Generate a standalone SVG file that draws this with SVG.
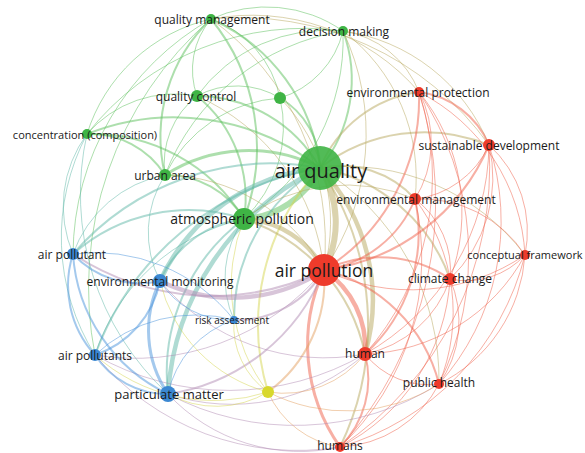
<svg xmlns="http://www.w3.org/2000/svg" width="585" height="453" viewBox="0 0 585 453">
<style>
.e{fill:none;stroke-opacity:0.5;stroke-width:1;stroke-linecap:round}
.g{stroke:#5cbf5c}.r{stroke:#f0604a}.b{stroke:#4a94dc}.y{stroke:#d6d650}
.gr{stroke:#b8a75e}.bg{stroke:#5fb8a8}.br{stroke:#b28cb4}.yr{stroke:#e4a060}
.w2{stroke-width:2}.w3{stroke-width:3}.w4{stroke-width:4.5}.w6{stroke-width:6}
.l{font-family:"Open Sans","Noto Sans","DejaVu Sans",sans-serif;fill:#1a1a1a;text-anchor:middle;dominant-baseline:central}
.ng{fill:#3fb445}.nr{fill:#ee3b2b}.nb{fill:#3b88d2}.ny{fill:#d8d82c}
</style>
<rect width="585" height="453" fill="#fff"/>
<g id="connectors">
<path class="e g" d="M211 19 A133 133 0 0 1 343 31"/>
<path class="e g w2" d="M211 19 A185 185 0 0 1 320 168"/>
<path class="e g w2" d="M211 19 A203 203 0 0 1 244 219"/>
<path class="e g" d="M197 96 A78 78 0 0 1 211 19"/>
<path class="e g" d="M87 134 A169 169 0 0 1 211 19"/>
<path class="e g w2" d="M165 175 A163 163 0 0 1 211 19"/>
<path class="e g" d="M211 19 A105 105 0 0 1 280 98"/>
<path class="e gr" d="M211 19 A275 275 0 0 1 324 270"/>
<path class="e gr" d="M211 19 A220 220 0 0 1 419 92"/>
<path class="e g" d="M95 355 A355 355 0 0 1 211 19"/>
<path class="e g" d="M73 254 A272 272 0 0 1 211 19"/>
<path class="e gr" d="M211 19 A305 305 0 0 1 489 145"/>
<path class="e g w2" d="M343 31 A139 139 0 0 1 320 168"/>
<path class="e g" d="M343 31 A212 212 0 0 1 244 219"/>
<path class="e g" d="M197 96 A160 160 0 0 1 343 31"/>
<path class="e g" d="M87 134 A276 276 0 0 1 343 31"/>
<path class="e gr" d="M343 31 A97 97 0 0 1 419 92"/>
<path class="e gr" d="M343 31 A185 185 0 0 1 489 145"/>
<path class="e gr" d="M343 31 A240 240 0 0 1 324 270"/>
<path class="e g" d="M343 31 A92 92 0 0 1 280 98"/>
<path class="e g" d="M165 175 A229 229 0 0 1 343 31"/>
<path class="e gr" d="M343 31 A183 183 0 0 1 415 199"/>
<path class="e g w2" d="M197 96 A142 142 0 0 1 320 168"/>
<path class="e g w2" d="M197 96 A132 132 0 0 1 244 219"/>
<path class="e g" d="M165 175 A85 85 0 0 1 197 96"/>
<path class="e g" d="M87 134 A116 116 0 0 1 197 96"/>
<path class="e g" d="M197 96 A83 83 0 0 1 280 98"/>
<path class="e gr" d="M197 96 A215 215 0 0 1 324 270"/>
<path class="e g w2" d="M280 98 A81 81 0 0 1 320 168"/>
<path class="e g" d="M280 98 A126 126 0 0 1 244 219"/>
<path class="e g" d="M165 175 A138 138 0 0 1 280 98"/>
<path class="e gr" d="M280 98 A177 177 0 0 1 324 270"/>
<path class="e g w2" d="M87 134 A88 88 0 0 1 165 175"/>
<path class="e g w2" d="M87 134 A235 235 0 0 1 320 168"/>
<path class="e g w2" d="M87 134 A178 178 0 0 1 244 219"/>
<path class="e bg" d="M73 254 A121 121 0 0 1 87 134"/>
<path class="e bg" d="M95 355 A221 221 0 0 1 87 134"/>
<path class="e bg" d="M168 394 A272 272 0 0 1 87 134"/>
<path class="e g w3" d="M165 175 A155 155 0 0 1 320 168"/>
<path class="e g w2" d="M165 175 A90 90 0 0 1 244 219"/>
<path class="e bg" d="M73 254 A121 121 0 0 1 165 175"/>
<path class="e bg" d="M160 281 A106 106 0 0 1 165 175"/>
<path class="e gr" d="M165 175 A185 185 0 0 1 324 270"/>
<path class="e g w6" d="M320 168 A91 91 0 0 1 244 219"/>
<path class="e gr w6" d="M320 168 A102 102 0 0 1 324 270"/>
<path class="e gr w2" d="M320 168 A125 125 0 0 1 419 92"/>
<path class="e gr w2" d="M320 168 A170 170 0 0 1 489 145"/>
<path class="e gr w2" d="M320 168 A100 100 0 0 1 415 199"/>
<path class="e gr w2" d="M320 168 A171 171 0 0 1 450 279"/>
<path class="e gr w4" d="M320 168 A191 191 0 0 1 365 354"/>
<path class="e gr w2" d="M320 168 A280 280 0 0 1 340 447"/>
<path class="e bg w2" d="M73 254 A262 262 0 0 1 320 168"/>
<path class="e bg w4" d="M160 281 A196 196 0 0 1 320 168"/>
<path class="e bg w2" d="M234 320 A175 175 0 0 1 320 168"/>
<path class="e bg w2" d="M95 355 A292 292 0 0 1 320 168"/>
<path class="e bg w4" d="M168 394 A272 272 0 0 1 320 168"/>
<path class="e y w2" d="M268 392 A230 230 0 0 1 320 168"/>
<path class="e gr" d="M320 168 A247 247 0 0 1 439 384"/>
<path class="e gr" d="M320 168 A223 223 0 0 1 525 255"/>
<path class="e gr w4" d="M244 219 A95 95 0 0 1 324 270"/>
<path class="e bg w2" d="M160 281 A104 104 0 0 1 244 219"/>
<path class="e bg w2" d="M73 254 A175 175 0 0 1 244 219"/>
<path class="e bg w2" d="M168 394 A191 191 0 0 1 244 219"/>
<path class="e bg" d="M95 355 A202 202 0 0 1 244 219"/>
<path class="e bg" d="M234 320 A101 101 0 0 1 244 219"/>
<path class="e gr w2" d="M244 219 A181 181 0 0 1 365 354"/>
<path class="e y" d="M268 392 A175 175 0 0 1 244 219"/>
<path class="e gr" d="M244 219 A172 172 0 0 1 415 199"/>
<path class="e r w2" d="M419 92 A88 88 0 0 1 489 145"/>
<path class="e r" d="M419 92 A107 107 0 0 1 415 199"/>
<path class="e r w2" d="M419 92 A202 202 0 0 1 324 270"/>
<path class="e r" d="M419 92 A190 190 0 0 1 450 279"/>
<path class="e r" d="M419 92 A194 194 0 0 1 525 255"/>
<path class="e r" d="M419 92 A268 268 0 0 1 365 354"/>
<path class="e r" d="M419 92 A293 293 0 0 1 439 384"/>
<path class="e r" d="M419 92 A364 364 0 0 1 340 447"/>
<path class="e r" d="M489 145 A92 92 0 0 1 415 199"/>
<path class="e r w2" d="M489 145 A207 207 0 0 1 324 270"/>
<path class="e r" d="M489 145 A140 140 0 0 1 450 279"/>
<path class="e r" d="M489 145 A116 116 0 0 1 525 255"/>
<path class="e r" d="M489 145 A243 243 0 0 1 365 354"/>
<path class="e r" d="M489 145 A244 244 0 0 1 439 384"/>
<path class="e r" d="M489 145 A337 337 0 0 1 340 447"/>
<path class="e r w2" d="M415 199 A115 115 0 0 1 324 270"/>
<path class="e r" d="M415 199 A88 88 0 0 1 450 279"/>
<path class="e r" d="M415 199 A123 123 0 0 1 525 255"/>
<path class="e r w2" d="M415 199 A163 163 0 0 1 365 354"/>
<path class="e r" d="M415 199 A187 187 0 0 1 439 384"/>
<path class="e r" d="M415 199 A259 259 0 0 1 340 447"/>
<path class="e r w2" d="M324 270 A126 126 0 0 1 450 279"/>
<path class="e r" d="M525 255 A202 202 0 0 1 324 270"/>
<path class="e r w4" d="M324 270 A93 93 0 0 1 365 354"/>
<path class="e r w2" d="M324 270 A157 157 0 0 1 439 384"/>
<path class="e r w3" d="M340 447 A178 178 0 0 1 324 270"/>
<path class="e r" d="M525 255 A79 79 0 0 1 450 279"/>
<path class="e r" d="M450 279 A113 113 0 0 1 365 354"/>
<path class="e r" d="M450 279 A106 106 0 0 1 439 384"/>
<path class="e r" d="M450 279 A201 201 0 0 1 340 447"/>
<path class="e r" d="M525 255 A188 188 0 0 1 365 354"/>
<path class="e r" d="M525 255 A155 155 0 0 1 439 384"/>
<path class="e r" d="M525 255 A267 267 0 0 1 340 447"/>
<path class="e r w2" d="M365 354 A96 96 0 0 1 340 447"/>
<path class="e r" d="M439 384 A117 117 0 0 1 340 447"/>
<path class="e r" d="M439 384 A80 80 0 0 1 365 354"/>
<path class="e br w4" d="M324 270 A165 165 0 0 1 160 281"/>
<path class="e br w2" d="M324 270 A199 199 0 0 1 168 394"/>
<path class="e br" d="M324 270 A245 245 0 0 1 95 355"/>
<path class="e br w2" d="M324 270 A253 253 0 0 1 73 254"/>
<path class="e br w2" d="M324 270 A100 100 0 0 1 234 320"/>
<path class="e yr w2" d="M324 270 A138 138 0 0 1 268 392"/>
<path class="e br" d="M365 354 A201 201 0 0 1 168 394"/>
<path class="e yr" d="M365 354 A102 102 0 0 1 268 392"/>
<path class="e br" d="M340 447 A180 180 0 0 1 168 394"/>
<path class="e br" d="M340 447 A262 262 0 0 1 95 355"/>
<path class="e br" d="M439 384 A271 271 0 0 1 168 394"/>
<path class="e br" d="M365 354 A214 214 0 0 1 160 281"/>
<path class="e br" d="M365 354 A271 271 0 0 1 95 355"/>
<path class="e b w2" d="M160 281 A91 91 0 0 1 73 254"/>
<path class="e b w2" d="M95 355 A103 103 0 0 1 73 254"/>
<path class="e b w2" d="M168 394 A86 86 0 0 1 95 355"/>
<path class="e b w2" d="M168 394 A167 167 0 0 1 73 254"/>
<path class="e b w2" d="M160 281 A98 98 0 0 1 95 355"/>
<path class="e b w3" d="M168 394 A113 113 0 0 1 160 281"/>
<path class="e b" d="M168 394 A99 99 0 0 1 234 320"/>
<path class="e b" d="M234 320 A82 82 0 0 1 160 281"/>
<path class="e b" d="M95 355 A146 146 0 0 1 234 320"/>
<path class="e b" d="M73 254 A176 176 0 0 1 234 320"/>
<path class="e y" d="M268 392 A100 100 0 0 1 168 394"/>
<path class="e y" d="M268 392 A80 80 0 0 1 234 320"/>
<path class="e y" d="M268 392 A149 149 0 0 1 160 281"/>
<path class="e y" d="M268 392 A177 177 0 0 1 95 355"/>
<path class="e yr" d="M340 447 A93 93 0 0 1 268 392"/>
<path class="e yr" d="M439 384 A171 171 0 0 1 268 392"/>
</g>
<g id="n-quality-management"><circle class="ng" cx="211" cy="19" r="5"/><text class="l" x="212" y="19" font-size="12">quality management</text></g>
<g id="n-decision-making"><circle class="ng" cx="343" cy="31" r="5"/><text class="l" x="344" y="31" font-size="12">decision making</text></g>
<g id="n-unlabelled-green"><circle class="ng" cx="280" cy="98" r="6"/></g>
<g id="n-quality-control"><circle class="ng" cx="197" cy="96" r="6"/><text class="l" x="196" y="96" font-size="12">quality control</text></g>
<g id="n-concentration"><circle class="ng" cx="87" cy="134" r="5"/><text class="l" x="85" y="134" font-size="11">concentration (composition)</text></g>
<g id="n-urban-area"><circle class="ng" cx="165" cy="175" r="6"/><text class="l" x="165" y="175" font-size="12">urban area</text></g>
<g id="n-air-quality"><circle class="ng" cx="320" cy="168" r="22" fill-opacity="0.9"/><text class="l" x="321" y="170" font-size="20">air quality</text></g>
<g id="n-atmospheric-pollution"><circle class="ng" cx="244" cy="219" r="11"/><text class="l" x="242" y="218" font-size="14">atmospheric pollution</text></g>
<g id="n-environmental-protection"><circle class="nr" cx="419" cy="92" r="5"/><text class="l" x="418" y="92" font-size="12">environmental protection</text></g>
<g id="n-sustainable-development"><circle class="nr" cx="489" cy="145" r="6"/><text class="l" x="489" y="145" font-size="12">sustainable development</text></g>
<g id="n-environmental-management"><circle class="nr" cx="415" cy="199" r="6"/><text class="l" x="416" y="199" font-size="12">environmental management</text></g>
<g id="n-air-pollution"><circle class="nr" cx="324" cy="270" r="16"/><text class="l" x="324" y="270" font-size="17.5">air pollution</text></g>
<g id="n-climate-change"><circle class="nr" cx="450" cy="279" r="6"/><text class="l" x="450" y="278" font-size="12">climate change</text></g>
<g id="n-conceptual-framework"><circle class="nr" cx="525" cy="255" r="5"/><text class="l" x="525" y="254" font-size="11">conceptual framework</text></g>
<g id="n-human"><circle class="nr" cx="365" cy="354" r="7"/><text class="l" x="365" y="353" font-size="12">human</text></g>
<g id="n-public-health"><circle class="nr" cx="439" cy="384" r="5"/><text class="l" x="439" y="382" font-size="12">public health</text></g>
<g id="n-humans"><circle class="nr" cx="340" cy="447" r="5"/><text class="l" x="340" y="445" font-size="12">humans</text></g>
<g id="n-air-pollutant"><circle class="nb" cx="73" cy="254" r="6"/><text class="l" x="72" y="254" font-size="12">air pollutant</text></g>
<g id="n-environmental-monitoring"><circle class="nb" cx="160" cy="281" r="7"/><text class="l" x="160" y="281" font-size="12">environmental monitoring</text></g>
<g id="n-risk-assessment"><circle class="nb" cx="234" cy="320" r="4"/><text class="l" x="232" y="320" font-size="10">risk assessment</text></g>
<g id="n-air-pollutants"><circle class="nb" cx="95" cy="355" r="6"/><text class="l" x="95" y="355" font-size="12">air pollutants</text></g>
<g id="n-particulate-matter"><circle class="nb" cx="168" cy="394" r="8"/><text class="l" x="169" y="394" font-size="13">particulate matter</text></g>
<g id="n-yellow"><circle class="ny" cx="268" cy="392" r="6"/></g>
</svg>
